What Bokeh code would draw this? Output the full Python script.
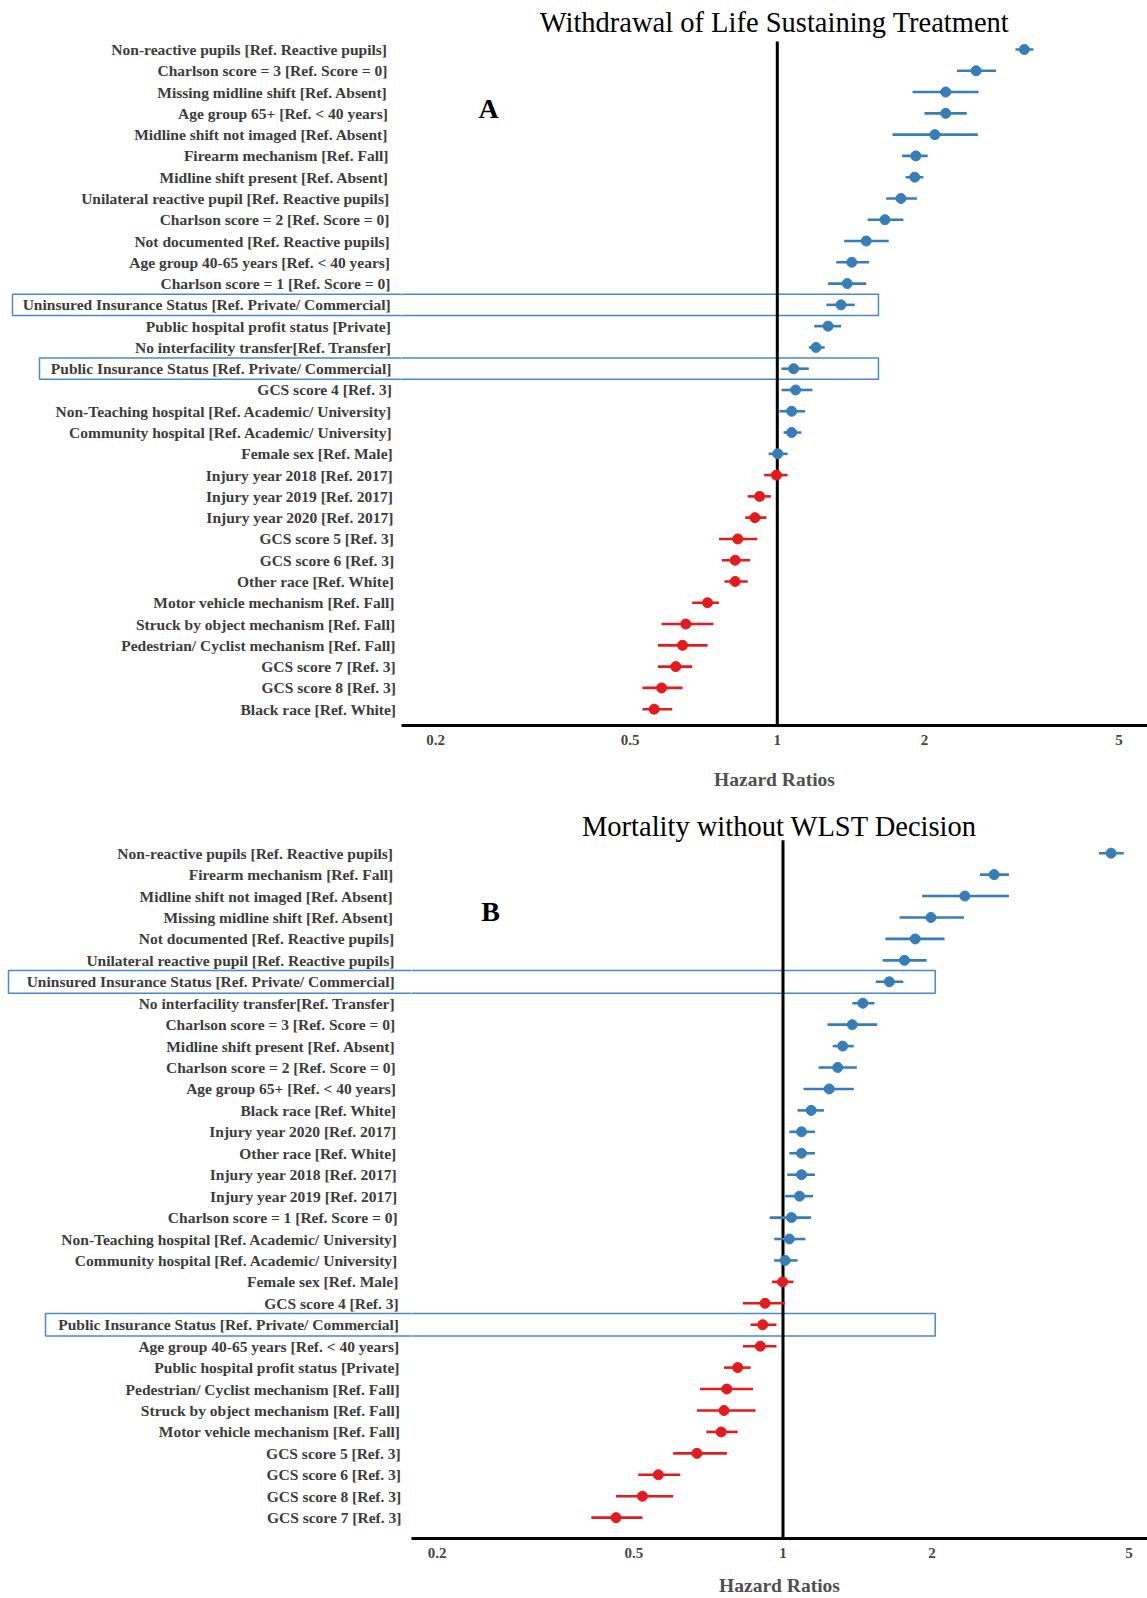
import math
from bokeh.plotting import figure
from bokeh.models import Range1d, FixedTicker, ColumnDataSource
from bokeh.layouts import column, row
from bokeh.embed import file_html
from bokeh.resources import INLINE
from bokeh.core.properties import value

# ---------------- data: Panel A (Withdrawal of Life Sustaining Treatment) ----------------
title_a = "Withdrawal of Life Sustaining Treatment"
labels_a = [
    "Non-reactive pupils [Ref. Reactive pupils]",
    "Charlson score = 3 [Ref. Score = 0]",
    "Missing midline shift [Ref. Absent]",
    "Age group 65+ [Ref. < 40 years]",
    "Midline shift not imaged [Ref. Absent]",
    "Firearm mechanism [Ref. Fall]",
    "Midline shift present [Ref. Absent]",
    "Unilateral reactive pupil [Ref. Reactive pupils]",
    "Charlson score = 2 [Ref. Score = 0]",
    "Not documented [Ref. Reactive pupils]",
    "Age group 40-65 years [Ref. < 40 years]",
    "Charlson score = 1 [Ref. Score = 0]",
    "Uninsured Insurance Status [Ref. Private/ Commercial]",
    "Public hospital profit status [Private]",
    "No interfacility transfer[Ref. Transfer]",
    "Public Insurance Status [Ref. Private/ Commercial]",
    "GCS score 4 [Ref. 3]",
    "Non-Teaching hospital [Ref. Academic/ University]",
    "Community hospital [Ref. Academic/ University]",
    "Female sex [Ref. Male]",
    "Injury year 2018 [Ref. 2017]",
    "Injury year 2019 [Ref. 2017]",
    "Injury year 2020 [Ref. 2017]",
    "GCS score 5 [Ref. 3]",
    "GCS score 6 [Ref. 3]",
    "Other race [Ref. White]",
    "Motor vehicle mechanism [Ref. Fall]",
    "Struck by object mechanism [Ref. Fall]",
    "Pedestrian/ Cyclist mechanism [Ref. Fall]",
    "GCS score 7 [Ref. 3]",
    "GCS score 8 [Ref. 3]",
    "Black race [Ref. White]",
]
hr_a = [3.20, 2.55, 2.21, 2.21, 2.10, 1.92, 1.91, 1.79, 1.66, 1.52, 1.42, 1.39, 1.35, 1.27, 1.20, 1.08,
        1.09, 1.07, 1.07, 1.002, 0.996, 0.92, 0.90, 0.83, 0.82, 0.82, 0.72, 0.65, 0.64, 0.62, 0.58, 0.56]
lo_a = [3.07, 2.33, 1.89, 2.00, 1.72, 1.80, 1.83, 1.67, 1.53, 1.37, 1.32, 1.27, 1.26, 1.19, 1.16, 1.02,
        1.02, 1.01, 1.03, 0.96, 0.94, 0.87, 0.86, 0.76, 0.77, 0.78, 0.67, 0.58, 0.57, 0.57, 0.53, 0.53]
hi_a = [3.34, 2.80, 2.58, 2.44, 2.57, 2.03, 1.99, 1.93, 1.81, 1.69, 1.54, 1.52, 1.44, 1.35, 1.25, 1.16,
        1.18, 1.14, 1.12, 1.05, 1.05, 0.97, 0.95, 0.91, 0.88, 0.87, 0.76, 0.74, 0.72, 0.67, 0.64, 0.61]

# ---------------- data: Panel B (Mortality without WLST Decision) ----------------
title_b = "Mortality without WLST Decision"
labels_b = [
    "Non-reactive pupils [Ref. Reactive pupils]",
    "Firearm mechanism [Ref. Fall]",
    "Midline shift not imaged [Ref. Absent]",
    "Missing midline shift [Ref. Absent]",
    "Not documented [Ref. Reactive pupils]",
    "Unilateral reactive pupil [Ref. Reactive pupils]",
    "Uninsured Insurance Status [Ref. Private/ Commercial]",
    "No interfacility transfer[Ref. Transfer]",
    "Charlson score = 3 [Ref. Score = 0]",
    "Midline shift present [Ref. Absent]",
    "Charlson score = 2 [Ref. Score = 0]",
    "Age group 65+ [Ref. < 40 years]",
    "Black race [Ref. White]",
    "Injury year 2020 [Ref. 2017]",
    "Other race [Ref. White]",
    "Injury year 2018 [Ref. 2017]",
    "Injury year 2019 [Ref. 2017]",
    "Charlson score = 1 [Ref. Score = 0]",
    "Non-Teaching hospital [Ref. Academic/ University]",
    "Community hospital [Ref. Academic/ University]",
    "Female sex [Ref. Male]",
    "GCS score 4 [Ref. 3]",
    "Public Insurance Status [Ref. Private/ Commercial]",
    "Age group 40-65 years [Ref. < 40 years]",
    "Public hospital profit status [Private]",
    "Pedestrian/ Cyclist mechanism [Ref. Fall]",
    "Struck by object mechanism [Ref. Fall]",
    "Motor vehicle mechanism [Ref. Fall]",
    "GCS score 5 [Ref. 3]",
    "GCS score 6 [Ref. 3]",
    "GCS score 8 [Ref. 3]",
    "GCS score 7 [Ref. 3]",
]
hr_b = [4.60, 2.67, 2.33, 1.99, 1.85, 1.76, 1.64, 1.45, 1.38, 1.32, 1.29, 1.24, 1.14, 1.09, 1.09, 1.09,
        1.08, 1.04, 1.03, 1.01, 0.998, 0.92, 0.91, 0.90, 0.81, 0.77, 0.76, 0.75, 0.67, 0.56, 0.52, 0.46]
lo_b = [4.35, 2.50, 1.91, 1.72, 1.61, 1.59, 1.54, 1.38, 1.23, 1.26, 1.18, 1.10, 1.07, 1.03, 1.03, 1.02,
        1.01, 0.94, 0.96, 0.96, 0.95, 0.83, 0.86, 0.83, 0.76, 0.68, 0.67, 0.70, 0.60, 0.51, 0.46, 0.41]
hi_b = [4.88, 2.86, 2.86, 2.32, 2.12, 1.95, 1.75, 1.53, 1.55, 1.39, 1.41, 1.39, 1.21, 1.16, 1.16, 1.16,
        1.15, 1.14, 1.11, 1.07, 1.05, 1.01, 0.97, 0.97, 0.86, 0.87, 0.88, 0.81, 0.77, 0.62, 0.60, 0.52]

boxed_labels = ["Uninsured Insurance Status [Ref. Private/ Commercial]",
                "Public Insurance Status [Ref. Private/ Commercial]"]

tick_values = [0.2, 0.5, 1.0, 2.0, 5.0]
tick_labels = ["0.2", "0.5", "1", "2", "5"]
REF_HR = 1.0

# ---------------- styles ----------------
BLUE = "#377eb8"
RED = "#e41a1c"
BOX = "#4a89c8"
SERIF = "Liberation Serif"
LABEL_COLOR = "#3c3c3c"
AXIS_TEXT = "#474747"


def panel(title, letter, labels, hr, lo, hi, cfg):
    n = len(labels)
    ys = [n - 1 - i for i in range(n)]
    colors = [BLUE if h >= REF_HR else RED for h in hr]
    row0, pitch = cfg["row0"], cfg["pitch"]
    H, B = cfg["height"], cfg["border_bottom"]

    def fy(py):  # figure pixel y -> data y
        return (n - 1) - (py - row0) / pitch

    def fx(px):  # right-frame pixel x -> hazard ratio
        return 10 ** ((px - cfg["one_px"]) / cfg["ppd"])

    y_start = fy(H - B)
    y_end = fy(0)
    x_start = fx(0)
    x_end = fx(cfg["right_w"])
    yr = Range1d(y_start, y_end)

    # ---- right: forest plot ----
    p = figure(width=cfg["right_w"], height=H, x_axis_type="log",
               x_range=Range1d(x_start, x_end), y_range=yr,
               y_axis_location=None, output_backend="svg", toolbar_location=None, tools="",
               min_border_left=0, min_border_right=0, min_border_top=0, min_border_bottom=B)
    p.outline_line_color = None
    p.grid.visible = False
    p.background_fill_color = "white"
    p.border_fill_color = "white"

    ax = p.xaxis[0]
    ax.ticker = FixedTicker(ticks=tick_values)
    ax.major_label_overrides = dict(zip(tick_values, tick_labels))
    ax.axis_line_width = 3
    ax.axis_line_color = "black"
    ax.major_tick_line_color = None
    ax.minor_tick_line_color = None
    ax.major_tick_out = 0
    ax.major_tick_in = 0
    ax.minor_tick_out = 0
    ax.minor_tick_in = 0
    ax.major_label_text_font = SERIF
    ax.major_label_text_font_style = "bold"
    ax.major_label_text_font_size = "15px"
    ax.major_label_text_color = AXIS_TEXT
    ax.major_label_standoff = cfg["label_standoff"]
    ax.axis_label = "Hazard Ratios"
    ax.axis_label_text_font = SERIF
    ax.axis_label_text_font_style = "bold"
    ax.axis_label_text_font_size = "19.5px"
    ax.axis_label_text_color = "#505050"
    ax.axis_label_standoff = cfg["axis_label_standoff"]

    # boxes around insurance rows (right part)
    box_rows = [labels.index(b) for b in boxed_labels]
    by = [ys[r] for r in box_rows]
    p.quad(left=[x_start / 10] * len(by), right=[cfg["box_right_hr"]] * len(by),
           bottom=[y - cfg["box_half"] for y in by], top=[y + cfg["box_half"] for y in by],
           fill_color=None, line_color=BOX, line_width=1.5)

    # reference line at HR = 1
    p.segment(x0=[REF_HR], x1=[REF_HR], y0=[y_start], y1=[fy(cfg["line_top"])],
              line_color="black", line_width=3)

    src = ColumnDataSource(dict(y=ys, hr=hr, lo=lo, hi=hi, color=colors))
    p.segment(x0="lo", x1="hi", y0="y", y1="y", line_color="color", line_width=2.6, source=src)
    p.scatter("hr", "y", size=10, fill_color="color", line_color="color", source=src)

    p.text(x=[math.sqrt(x_start * x_end)], y=[fy(cfg["title_y"])], text=[title],
           text_font=value(SERIF), text_font_size="28.5px", text_color="black",
           text_align="center", text_baseline="middle")
    p.text(x=[fx(cfg["letter_x"])], y=[fy(cfg["letter_y"])], text=[letter],
           text_font=value(SERIF), text_font_size="28px", text_font_style="bold",
           text_color="black", text_align="center", text_baseline="middle")

    # ---- left: row labels ----
    q = figure(width=cfg["left_w"], height=H, x_range=Range1d(0, cfg["left_w"]), y_range=yr,
               x_axis_location=None, y_axis_location=None, output_backend="svg",
               toolbar_location=None, tools="",
               min_border_left=0, min_border_right=0, min_border_top=0, min_border_bottom=B)
    q.outline_line_color = None
    q.grid.visible = False
    lx = [cfg["label_x0"] + cfg["label_slope"] * i for i in range(n)]
    q.text(x=lx, y=ys, text=labels, text_font=value(SERIF), text_font_size="15.5px",
           text_font_style="bold", text_color=LABEL_COLOR,
           text_align="right", text_baseline="middle")
    q.quad(left=cfg["box_left_px"], right=[cfg["left_w"] + 20] * len(by),
           bottom=[y - cfg["box_half"] for y in by], top=[y + cfg["box_half"] for y in by],
           fill_color=None, line_color=BOX, line_width=1.5)
    return row(q, p)


cfg_a = dict(height=794, border_bottom=69, row0=49, pitch=21.28, left_w=401, right_w=746,
             one_px=375.8, ppd=489, title_y=22.4, line_top=41, letter_x=87, letter_y=108,
             label_x0=386.5, label_slope=0.3, box_left_px=[12, 39], box_right_hr=1.61,
             box_half=0.5, label_standoff=9, axis_label_standoff=21)
cfg_b = dict(height=804, border_bottom=56, row0=59, pitch=21.55, left_w=411, right_w=736,
             one_px=371.5, ppd=495, title_y=32, line_top=46, letter_x=79, letter_y=118,
             label_x0=392.5, label_slope=0.27, box_left_px=[8, 45], box_right_hr=2.03,
             box_half=0.53, label_standoff=9, axis_label_standoff=14)

layout = column(panel(title_a, "A", labels_a, hr_a, lo_a, hi_a, cfg_a),
                panel(title_b, "B", labels_b, hr_b, lo_b, hi_b, cfg_b))

with open("out.html", "w") as f:
    f.write(file_html(layout, INLINE))
